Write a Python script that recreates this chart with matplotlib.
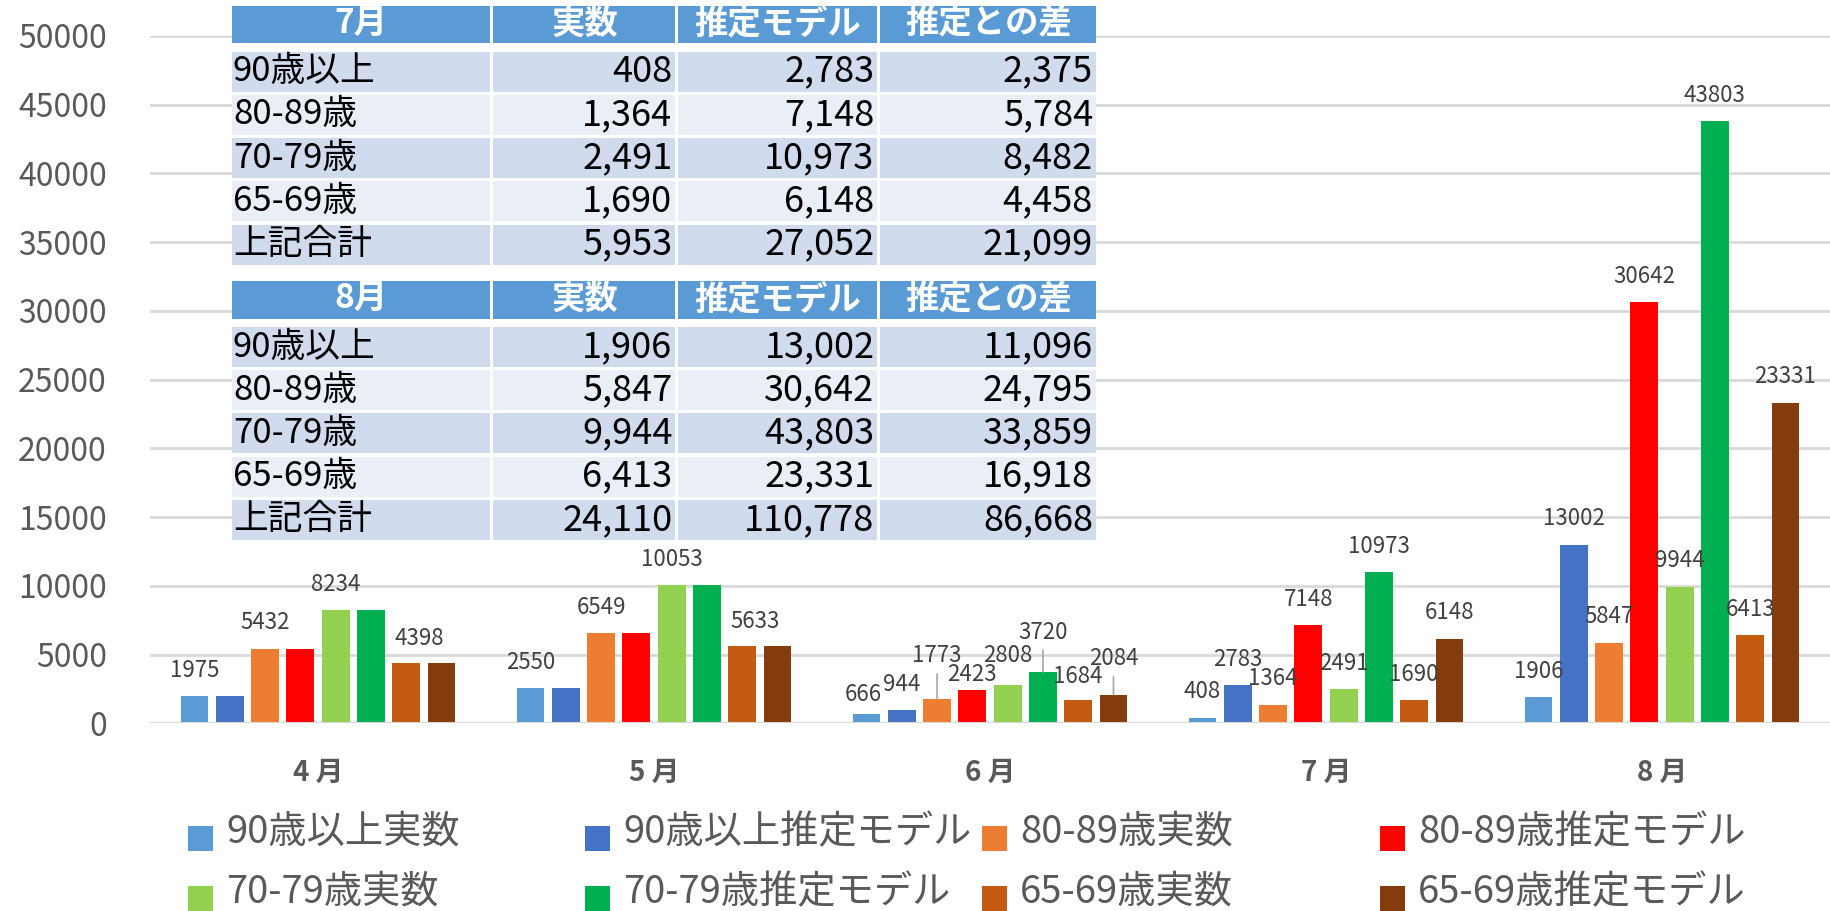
import matplotlib
matplotlib.use("Agg")
import matplotlib.pyplot as plt
from matplotlib.patches import Rectangle

plt.rcParams['font.family'] = ['Noto Sans CJK JP', 'DejaVu Sans']

# chart data
months = ["4 月", "5 月", "6 月", "7 月", "8 月"]
series_names = ["90歳以上実数", "90歳以上推定モデル", "80-89歳実数", "80-89歳推定モデル",
                "70-79歳実数", "70-79歳推定モデル", "65-69歳実数", "65-69歳推定モデル"]
colors = ["#5B9BD5", "#4472C4", "#ED7D31", "#FF0000",
          "#92D050", "#00B050", "#C55A11", "#843C0C"]

v90_act = [1975, 2550, 666, 408, 1906]
v90_est = [1975, 2550, 944, 2783, 13002]
v80_act = [5432, 6549, 1773, 1364, 5847]
v80_est = [5432, 6549, 2423, 7148, 30642]
v70_act = [8234, 10053, 2808, 2491, 9944]
v70_est = [8234, 10053, 3720, 10973, 43803]
v65_act = [4398, 5633, 1684, 1690, 6413]
v65_est = [4398, 5633, 2084, 6148, 23331]
series = [v90_act, v90_est, v80_act, v80_est, v70_act, v70_est, v65_act, v65_est]

# table data
tbl_cols = ["実数", "推定モデル", "推定との差"]
tbl_rows = ["90歳以上", "80-89歳", "70-79歳", "65-69歳", "上記合計"]
jul_act = [408, 1364, 2491, 1690, 5953]
jul_est = [2783, 7148, 10973, 6148, 27052]
jul_diff = [2375, 5784, 8482, 4458, 21099]
aug_act = [1906, 5847, 9944, 6413, 24110]
aug_est = [13002, 30642, 43803, 23331, 110778]
aug_diff = [11096, 24795, 33859, 16918, 86668]

W, H = 1831, 911
fig = plt.figure(figsize=(W / 100, H / 100), dpi=100)
ax = fig.add_axes([150 / W, (H - 723.3) / H, 1680 / W, 687.3 / H])

pitch, bw = 0.105, 0.083
x = list(range(len(months)))
bars = []
for j, vals in enumerate(series):
    xs = [i + (j - 3.5) * pitch for i in x]
    bars.append(ax.bar(xs, vals, width=bw, color=colors[j], zorder=3))

# labels: duplicated pairs in Apr/May only show once
hidden = {(j, m) for j in (1, 3, 5, 7) for m in (0, 1)}
offsets = {(6, 0): (13, 24), (6, 1): (13, 24),
           (0, 2): (-3, 20), (2, 2): (0, 43), (3, 2): (0, 15), (4, 2): (0, 29),
           (5, 2): (0, 40), (6, 2): (0, 24), (7, 2): (0, 36)}
leaders = {(2, 2), (5, 2), (7, 2)}
for j, bc in enumerate(bars):
    for m, rect in enumerate(bc):
        if (j, m) in hidden:
            continue
        cx = rect.get_x() + rect.get_width() / 2
        v = rect.get_height()
        dx, dy = offsets.get((j, m), (0, 26))
        ax.annotate(str(series[j][m]), (cx, v), xytext=(dx, dy), textcoords='offset pixels',
                    ha='center', va='center', fontsize=16, color='#404040', zorder=4)
        if (j, m) in leaders:
            ax.annotate('', (cx, v), xytext=(0, dy - 18), textcoords='offset pixels',
                        arrowprops=dict(arrowstyle='-', color='#A6A6A6', lw=1.2,
                                        shrinkA=0, shrinkB=0))

ax.set_xlim(-0.5, 4.5)
ax.set_ylim(0, 50000)
ax.set_yticks(range(0, 50001, 5000))
ax.tick_params(axis='y', length=0, pad=31, labelsize=23, labelcolor='#595959')
ax.set_xticks([])
ax.grid(axis='y', color='#D9D9D9', lw=2, zorder=0)
for s in ax.spines.values():
    s.set_visible(False)
ax.axhline(0, color='#D9D9D9', lw=2.2, zorder=3)
for i, mth in enumerate(months):
    ax.text(i, -0.072, mth, transform=ax.get_xaxis_transform(), ha='center', va='center',
            fontsize=20, fontweight='bold', color='#595959')

# overlay in pixel coordinates for table and legend
ov = fig.add_axes([0, 0, 1, 1], zorder=5)
ov.set_xlim(0, W)
ov.set_ylim(H, 0)
ov.axis('off')
ov.patch.set_visible(False)

col_edges = [232, 492, 677, 879, 1096]
hdr_fill, dark, light = "#5B9BD5", "#D0DBEE", "#E9EEF7"


def draw_table(title, acts, ests, diffs, top):
    ov.add_patch(Rectangle((col_edges[0], top), col_edges[-1] - col_edges[0], 258,
                           facecolor='white', edgecolor='none'))
    heads = [title] + tbl_cols
    for c in range(4):
        x0, x1 = col_edges[c] + 1.5, col_edges[c + 1] - 1.5
        if c == 0:
            x0 = col_edges[0]
        if c == 3:
            x1 = col_edges[-1]
        ov.add_patch(Rectangle((x0, top), x1 - x0, 37.6, facecolor=hdr_fill, edgecolor='none'))
        ov.text((x0 + x1) / 2, top + 18.5, heads[c], ha='center', va='center',
                fontsize=24, fontweight='bold', color='white')
        for r in range(5):
            y0 = top + 46 + r * 43.2
            ov.add_patch(Rectangle((x0, y0), x1 - x0, 40,
                                   facecolor=dark if r % 2 == 0 else light, edgecolor='none'))
            if c == 0:
                ov.text(x0 + 1, y0 + 20, tbl_rows[r], ha='left', va='center',
                        fontsize=25, color='black')
            else:
                val = [acts, ests, diffs][c - 1][r]
                ov.text(x1 - 3, y0 + 20, f"{val:,}", ha='right', va='center',
                        fontsize=26, color='black')


draw_table("7月", jul_act, jul_est, jul_diff, 5.7)
draw_table("8月", aug_act, aug_est, aug_diff, 281)

leg_x = [188, 585, 982, 1380]
leg_y = [838.5, 898.5]
for k, name in enumerate(series_names):
    lx, ly = leg_x[k % 4], leg_y[k // 4]
    ov.add_patch(Rectangle((lx, ly - 12.5), 25, 25, facecolor=colors[k], edgecolor='none'))
    ov.text(lx + 38, ly - 6, name, ha='left', va='center', fontsize=27.5, color='#595959')

fig.savefig("out.png", dpi=100)
